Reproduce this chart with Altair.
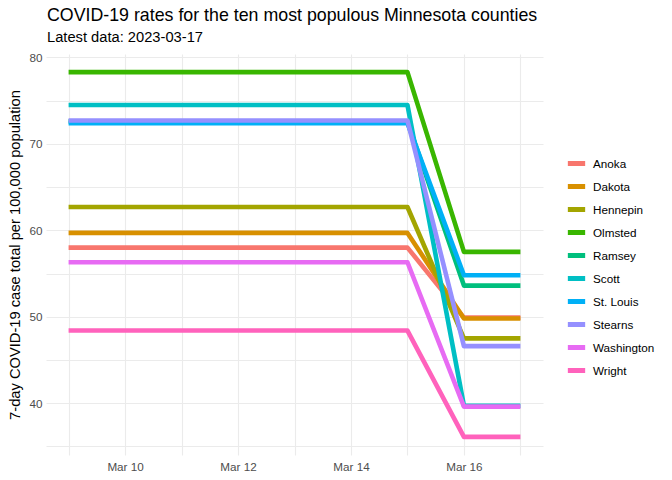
import altair as alt
import pandas as pd

counties = ["Anoka", "Dakota", "Hennepin", "Olmsted", "Ramsey",
            "Scott", "St. Louis", "Stearns", "Washington", "Wright"]
# value held from Mar 9 through Mar 15, then Mar 16 and Mar 17
rate_early = [58.0, 59.7, 62.7, 78.3, 72.6, 74.5, 72.4, 72.7, 56.3, 48.4]
rate_late = [49.9, 49.8, 47.5, 57.5, 53.6, 39.7, 54.8, 46.6, 39.6, 36.1]
early_days = ["2023-03-09", "2023-03-10", "2023-03-11", "2023-03-12",
              "2023-03-13", "2023-03-14", "2023-03-15"]
late_days = ["2023-03-16", "2023-03-17"]
colors = ["#F8766D", "#D89000", "#A3A500", "#39B600", "#00BF7D",
          "#00BFC4", "#00B0F6", "#9590FF", "#E76BF3", "#FF62BC"]

rows = []
for i, c in enumerate(counties):
    for d in early_days:
        rows.append({"county": c, "date": d, "rate": rate_early[i], "k": i})
    for d in late_days:
        rows.append({"county": c, "date": d, "rate": rate_late[i], "k": i})
df = pd.DataFrame(rows)

FONT = "Liberation Sans"
x_ticks = [alt.DateTime(year=2023, month=3, date=d, utc=True) for d in range(9, 18)]

chart = alt.Chart(df).mark_line(strokeWidth=4.6, strokeJoin="round", strokeCap="butt").encode(
    x=alt.X("utcyearmonthdate(date):T",
            scale=alt.Scale(type="utc",
                            domain=[alt.DateTime(year=2023, month=3, date=8, hours=14, minutes=24, utc=True),
                                    alt.DateTime(year=2023, month=3, date=17, hours=9, minutes=36, utc=True)]),
            axis=alt.Axis(values=x_ticks, title=None,
                          labelExpr="utcdate(datum.value) % 2 == 0 ? utcFormat(datum.value, '%b %d') : ''")),
    y=alt.Y("rate:Q",
            scale=alt.Scale(domain=[34.0, 80.4], nice=False, zero=False),
            axis=alt.Axis(values=list(range(35, 81, 5)),
                          title="7-day COVID-19 case total per 100,000 population",
                          labelExpr="datum.value % 10 == 0 ? datum.label : ''")),
    color=alt.Color("county:N",
                    scale=alt.Scale(domain=counties, range=colors),
                    legend=alt.Legend(title=None, orient="none", legendX=519, legendY=98,
                                      symbolType="stroke", symbolSize=300, symbolStrokeWidth=5,
                                      labelFont=FONT, labelFontSize=11.7, labelColor="#000000",
                                      labelOffset=5, rowPadding=1)),
    order=alt.Order("k:Q"),
).properties(
    width=497, height=401,
    autosize=alt.AutoSizeParams(type="none"),
    padding={"left": 46, "top": 54, "right": 129, "bottom": 25},
    title=alt.TitleParams(
        text="COVID-19 rates for the ten most populous Minnesota counties",
        subtitle="Latest data: 2023-03-17",
        anchor="start", frame="group", dx=1, offset=8,
        font=FONT, fontSize=17.8, fontWeight="normal", color="#000000",
        subtitleFont=FONT, subtitleFontSize=14.7, subtitleColor="#000000",
        subtitlePadding=5),
).configure_view(stroke=None).configure_axis(
    grid=True, gridColor="#EBEBEB", gridWidth=1.1, domain=False, ticks=False,
    labelFont=FONT, labelFontSize=11.7, labelColor="#4D4D4D", labelPadding=4,
    titleFont=FONT, titleFontSize=14.7, titleColor="#000000", titleFontWeight="normal",
).configure_axisY(titlePadding=6).configure_axisX(labelPadding=6)

chart.save("out.html", embed_options={"renderer": "svg", "actions": False})
